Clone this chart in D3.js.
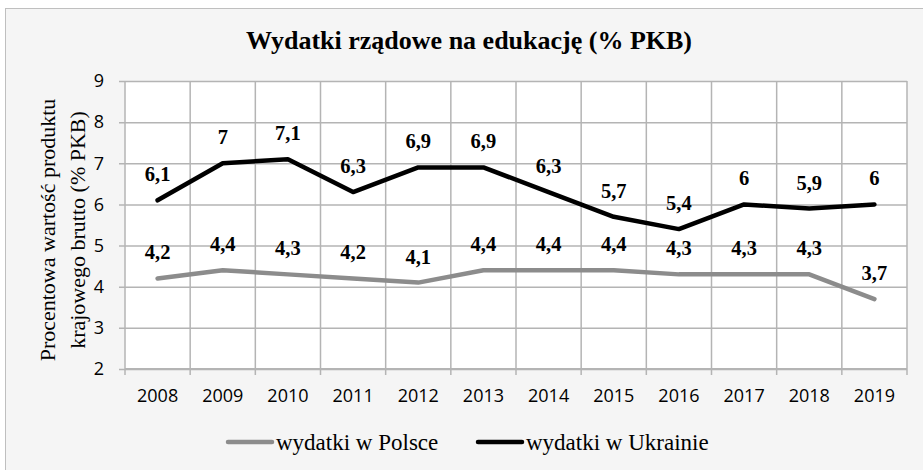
<!DOCTYPE html>
<html>
<head>
<meta charset="utf-8">
<script src="https://cdn.jsdelivr.net/npm/d3@7"></script>
<style>
  html, body { margin: 0; padding: 0; background: #ffffff; }
  svg { display: block; }
</style>
</head>
<body>
<svg id="chart" width="923" height="470"></svg>
<script>
const years = ["2008","2009","2010","2011","2012","2013","2014","2015","2016","2017","2018","2019"];
const poland = [4.2, 4.4, 4.3, 4.2, 4.1, 4.4, 4.4, 4.4, 4.3, 4.3, 4.3, 3.7];
const ukraine = [6.1, 7, 7.1, 6.3, 6.9, 6.9, 6.3, 5.7, 5.4, 6, 5.9, 6];
const yTicks = [2, 3, 4, 5, 6, 7, 8, 9];
const seriesNames = ["wydatki w Polsce", "wydatki w Ukrainie"];
const seriesColors = ["#8c8c8c", "#000000"];
const title = "Wydatki rządowe na edukację (% PKB)";
const yLabelLines = ["Procentowa wartość produktu", "krajowego brutto (% PKB)"];

const svg = d3.select("#chart");
const W = 923, H = 470;
const serif = "'Liberation Serif', 'Times New Roman', serif";
const sans = "'Open Sans', 'Liberation Sans', sans-serif";

// background & outer border
svg.append("rect").attr("x", 0).attr("y", 0).attr("width", W).attr("height", H).attr("fill", "#ffffff");
svg.append("rect").attr("x", 5.5).attr("y", 8.5).attr("width", W + 20).attr("height", H + 20)
  .attr("fill", "#f5f5f5").attr("stroke", "#bfbfbf").attr("stroke-width", 1);

const plot = { left: 125, top: 81, right: 907, bottom: 369 };

const x = d3.scaleBand().domain(years).range([plot.left, plot.right]);
const y = d3.scaleLinear().domain([2, 9]).range([plot.bottom, plot.top]);

// plot area
svg.append("rect").attr("x", plot.left).attr("y", plot.top)
  .attr("width", plot.right - plot.left).attr("height", plot.bottom - plot.top)
  .attr("fill", "#ffffff");

const gridColor = "#b4b4b4";

// horizontal grid + y axis
const yAxis = d3.axisLeft(y).tickValues(yTicks).tickSize(plot.right - plot.left + 6).tickPadding(15).tickFormat(d3.format("d"));
const gy = svg.append("g").attr("transform", `translate(${plot.right},0)`).call(yAxis);
gy.select(".domain").remove();
gy.selectAll(".tick line").attr("stroke", gridColor).attr("stroke-width", 1.5);
gy.selectAll(".tick text").attr("font-family", sans).attr("font-size", 18).attr("fill", "#000");

// vertical grid lines at category boundaries
const bounds = years.map(d => x(d)).concat([x(years[years.length - 1]) + x.bandwidth()]);
svg.append("g").selectAll("line").data(bounds).join("line")
  .attr("x1", d => d).attr("x2", d => d)
  .attr("y1", plot.top).attr("y2", plot.bottom + 6)
  .attr("stroke", gridColor).attr("stroke-width", 1.5);

// x axis labels
const xAxis = d3.axisBottom(x).tickSize(0).tickPadding(20);
const gx = svg.append("g").attr("transform", `translate(0,${plot.bottom})`).call(xAxis);
gx.select(".domain").remove();
gx.selectAll(".tick text").attr("font-family", sans).attr("font-size", 18).attr("fill", "#000");

// bottom axis line
svg.append("line").attr("x1", plot.left).attr("x2", plot.right)
  .attr("y1", plot.bottom).attr("y2", plot.bottom)
  .attr("stroke", gridColor).attr("stroke-width", 2);

// lines
const line = d3.line().x((d, i) => x(years[i]) + x.bandwidth() / 2).y(d => y(d));
[poland, ukraine].forEach((s, k) => {
  svg.append("path").datum(s).attr("d", line)
    .attr("fill", "none").attr("stroke", seriesColors[k])
    .attr("stroke-width", 4.5).attr("stroke-linejoin", "round").attr("stroke-linecap", "round");
});

// data labels
const fmt = v => String(v).replace(".", ",");
[poland, ukraine].forEach((s) => {
  svg.append("g").selectAll("text").data(s).join("text")
    .attr("x", (d, i) => x(years[i]) + x.bandwidth() / 2)
    .attr("y", d => y(d) - 19)
    .attr("text-anchor", "middle")
    .attr("font-family", serif).attr("font-weight", "bold").attr("font-size", 20.5)
    .attr("fill", "#000")
    .text(d => fmt(d));
});

// title
svg.append("text").attr("x", 469).attr("y", 49).attr("text-anchor", "middle")
  .attr("font-family", serif).attr("font-weight", "bold").attr("font-size", 26)
  .attr("fill", "#000").text(title);

// y axis title
const yt = svg.append("text")
  .attr("transform", `translate(0,230) rotate(-90)`)
  .attr("text-anchor", "middle").attr("font-family", serif).attr("font-size", 22).attr("fill", "#000");
yt.selectAll("tspan").data(yLabelLines).join("tspan")
  .attr("x", 0).attr("y", (d, i) => 55 + i * 30).text(d => d);

// legend
const legendX = [228, 478];
seriesNames.forEach((name, k) => {
  svg.append("line").attr("x1", legendX[k]).attr("x2", legendX[k] + 44)
    .attr("y1", 442).attr("y2", 442)
    .attr("stroke", seriesColors[k]).attr("stroke-width", 4.5).attr("stroke-linecap", "round");
  svg.append("text").attr("x", legendX[k] + 48).attr("y", 450)
    .attr("font-family", serif).attr("font-size", 23).attr("fill", "#000").text(name);
});
</script>
</body>
</html>
